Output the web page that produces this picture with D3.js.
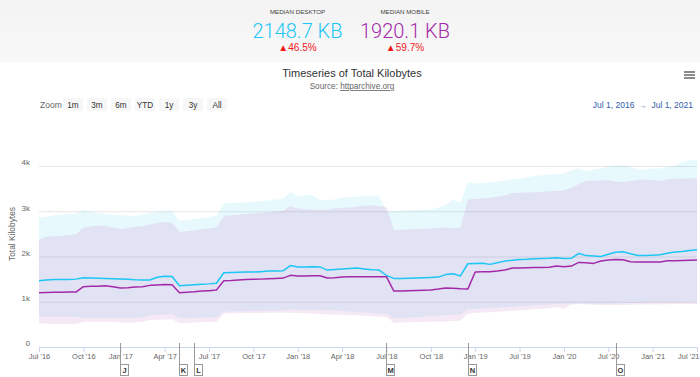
<!DOCTYPE html>
<html>
<head>
<meta charset="utf-8">
<script src="https://cdn.jsdelivr.net/npm/d3@7"></script>
<style>
  body { margin: 0; background: #fff; }
  svg text { font-family: 'Liberation Sans', Arial, sans-serif; }
</style>
</head>
<body>
<svg id="chart" width="700" height="377"></svg>
<script>
// crawl dates (twice a month until end of 2018, monthly after)
var crawlDates = [
  '2016-07-01','2016-07-15','2016-08-01','2016-08-15','2016-09-01','2016-09-15','2016-10-01','2016-10-15','2016-11-01','2016-11-15','2016-12-01',
  '2017-01-01','2017-01-15','2017-02-01','2017-02-15','2017-03-01','2017-03-15','2017-04-01','2017-04-15','2017-05-01','2017-05-15','2017-06-01','2017-06-15',
  '2017-07-01','2017-07-15','2017-08-01','2017-08-15','2017-09-01','2017-09-15','2017-10-01','2017-10-15','2017-11-01','2017-11-15','2017-12-01','2017-12-15',
  '2018-01-01','2018-01-15','2018-02-01','2018-02-15','2018-03-01','2018-03-15','2018-04-01','2018-04-15','2018-05-01','2018-05-15','2018-06-01','2018-06-15',
  '2018-07-01','2018-07-15','2018-08-01','2018-08-15','2018-09-01','2018-09-15','2018-10-01','2018-10-15','2018-11-01','2018-11-15','2018-12-01','2018-12-15',
  '2019-01-01','2019-02-01','2019-03-01','2019-04-01','2019-05-01','2019-06-01','2019-07-01','2019-08-01','2019-09-01','2019-10-01','2019-11-01','2019-12-01',
  '2020-01-01','2020-02-01','2020-03-01','2020-04-01','2020-05-01','2020-06-01','2020-07-01','2020-08-01','2020-09-01','2020-10-01','2020-11-01','2020-12-01',
  '2021-01-01','2021-02-01','2021-03-01','2021-04-01','2021-05-01','2021-06-01','2021-07-01'
];

var desktopMedian = [
  1463,1480,1494,1494,1494,1500,1530,1525,1520,1515,1510,
  1501,1495,1485,1479,1480,1540,1565,1560,1355,1365,1375,1385,1395,1410,1640,1645,1650,1655,1656,1665,1677,1680,1684,1800,
  1770,1770,1773,1770,1700,1710,1722,1737,1744,1725,1707,1700,1580,1516,1516,1520,1525,1530,1538,1545,1600,1620,1570,1840,
  1848,1850,1826,1860,1898,1915,1936,1940,1950,1955,1960,1971,
  1957,1960,2068,2020,2009,2000,2050,2095,2104,2060,2024,2024,
  2030,2038,2070,2100,2110,2135,2149
];
var mobileMedian = [
  1199,1205,1210,1212,1214,1215,1332,1340,1345,1354,1330,
  1302,1310,1325,1330,1362,1370,1380,1375,1200,1210,1220,1235,1245,1258,1464,1470,1480,1490,1495,1500,1510,1515,1523,1583,
  1570,1567,1575,1575,1523,1530,1545,1552,1552,1552,1552,1552,1550,1236,1240,1245,1250,1255,1262,1280,1302,1300,1285,1280,
  1656,1662,1665,1680,1700,1744,1745,1750,1755,1759,1765,1788,
  1773,1788,1869,1860,1848,1900,1921,1936,1930,1883,1880,1878,
  1876,1880,1905,1908,1912,1918,1920
];
var desktopHigh = [
  2855,2880,2914,2925,2936,2950,3024,2990,2960,2940,2920,
  2914,2905,2899,2930,2960,2987,3000,3005,2788,2810,2830,2850,2870,2899,3172,3180,3190,3200,3210,3220,3240,3260,3282,3428,
  3330,3355,3355,3245,3250,3260,3300,3318,3320,3330,3340,3340,2990,3000,3010,3020,3030,3040,3040,3080,3135,3260,3190,3649,
  3613,3620,3640,3660,3686,3705,3723,3750,3780,3797,3810,3820,
  3834,3900,3945,3892,3920,3945,3990,4018,4018,3980,3922,3922,
  3945,3945,3980,4000,4091,4120,4143
];
var mobileHigh = [
  2377,2435,2450,2460,2470,2490,2642,2665,2686,2680,2642,
  2605,2630,2657,2671,2715,2740,2760,2744,2545,2560,2580,2600,2620,2642,2899,2910,2925,2940,2950,2965,2980,2995,3009,3113,
  3061,3050,3040,3024,3040,3060,3075,3083,3100,3120,3135,3113,3098,2583,2590,2600,2610,2620,2620,2635,2642,2630,2642,3260,
  3270,3282,3300,3318,3350,3406,3410,3415,3422,3430,3440,3450,
  3466,3520,3600,3671,3680,3686,3686,3660,3649,3670,3690,3701,
  3690,3671,3700,3723,3725,3728,3730
];
var desktopLow = [
  669,669,669,669,669,669,640,640,640,640,640,
  640,640,640,650,700,715,720,728,633,640,645,648,650,655,780,785,790,792,795,798,800,802,802,832,
  825,820,815,810,805,800,795,780,770,760,750,743,740,633,640,650,660,670,684,690,700,710,721,832,
  840,850,860,870,880,890,900,910,920,930,940,949,
  949,960,965,960,958,955,955,960,965,970,975,980,
  985,990,992,995,997,999,1000
];
var mobileLow = [
  523,515,510,508,508,510,559,559,559,559,559,
  545,537,545,559,596,600,605,611,523,530,540,550,555,559,743,745,748,750,752,754,756,757,758,758,
  750,745,740,730,720,715,710,706,700,690,680,669,660,537,540,545,550,555,559,562,566,572,581,743,
  750,760,770,780,790,800,810,820,832,845,860,876,
  850,940,949,940,935,930,927,927,930,935,938,940,
  942,944,946,948,949,949,949
];

var tickDates = ['2016-07-01','2016-10-01','2017-01-01','2017-04-01','2017-07-01','2017-10-01','2018-01-01','2018-04-01',
                 '2018-07-01','2018-10-01','2019-01-01','2019-07-01','2020-01-01','2020-07-01','2021-01-01','2021-07-01'];
var tickLabels = ["Jul '16","Oct '16","Jan '17","Apr '17","Jul '17","Oct '17","Jan '18","Apr '18",
                  "Jul '18","Oct '18","Jan '19","Jul '19","Jan '20","Jul '20","Jan '21","Jul '21"];
var yTicks = [0, 1000, 2000, 3000, 4000];

var flagDates = ['2017-01-01','2017-05-01','2017-06-01','2018-07-01','2018-12-15','2020-08-01'];
var flagLetters = ['J','K','L','M','N','O'];

var zoomButtons = ['1m','3m','6m','YTD','1y','3y','All'];

var summaryLabels = ['MEDIAN DESKTOP', 'MEDIAN MOBILE'];
var summaryValues = ['2148.7 KB', '1920.1 KB'];
var summaryChanges = ['46.5%', '59.7%'];

var desktopColor = '#1cc6f5';
var mobileColor = '#a429a8';

var svg = d3.select('#chart');

// header strip
var grad = svg.append('defs').append('linearGradient')
    .attr('id', 'hdr').attr('x1', 0).attr('y1', 0).attr('x2', 0).attr('y2', 1);
grad.append('stop').attr('offset', '0%').attr('stop-color', '#f3f3f3');
grad.append('stop').attr('offset', '100%').attr('stop-color', '#f8f8f8');
svg.append('rect').attr('width', 700).attr('height', 62).attr('fill', 'url(#hdr)');

var summaryX = [297.5, 405];
var summaryColors = [desktopColor, mobileColor];
summaryLabels.forEach(function(label, i) {
  svg.append('text')
      .attr('x', summaryX[i]).attr('y', 14)
      .attr('text-anchor', 'middle')
      .attr('font-size', '6.2px')
      .attr('fill', '#444')
      .text(label);
  svg.append('text')
      .attr('x', summaryX[i]).attr('y', 38)
      .attr('text-anchor', 'middle')
      .attr('font-size', '20px')
      .attr('font-weight', 300)
      .style('font-family', 'Roboto, sans-serif')
      .attr('fill', summaryColors[i])
      .text(summaryValues[i]);
  svg.append('text')
      .attr('x', summaryX[i]).attr('y', 51)
      .attr('text-anchor', 'middle')
      .attr('font-size', '10px')
      .attr('fill', '#f01818')
      .text('\u25B2' + summaryChanges[i]);
});

// title block
svg.append('text')
    .attr('x', 352).attr('y', 77)
    .attr('text-anchor', 'middle')
    .attr('font-size', '11px')
    .attr('fill', '#333')
    .text('Timeseries of Total Kilobytes');

var source = svg.append('text')
    .attr('x', 352).attr('y', 89)
    .attr('text-anchor', 'middle')
    .attr('font-size', '8.2px')
    .attr('fill', '#666');
source.append('tspan').text('Source: ');
source.append('tspan').attr('text-decoration', 'underline').text('httparchive.org');

// export menu icon
[72, 75, 78].forEach(function(y) {
  svg.append('line')
      .attr('x1', 684).attr('x2', 695).attr('y1', y).attr('y2', y)
      .attr('stroke', '#666').attr('stroke-width', 1.5);
});

// range selector
svg.append('text')
    .attr('x', 40).attr('y', 107.5)
    .attr('font-size', '8.5px')
    .attr('fill', '#666')
    .text('Zoom');

var btn = svg.selectAll('.btn')
    .data(zoomButtons)
    .enter().append('g')
    .classed('btn', true)
    .attr('transform', function(d, i) { return 'translate(' + (63 + i * 24) + ',98)'; });
btn.append('rect')
    .attr('width', 20).attr('height', 13).attr('rx', 2)
    .attr('fill', '#f7f7f7');
btn.append('text')
    .attr('x', 10).attr('y', 9.5)
    .attr('text-anchor', 'middle')
    .attr('font-size', '8.2px')
    .attr('fill', '#333')
    .text(d => d);

var range = svg.append('text')
    .attr('x', 693).attr('y', 107.5)
    .attr('text-anchor', 'end')
    .attr('font-size', '8.5px')
    .attr('fill', '#335cad');
range.append('tspan').text('Jul 1, 2016');
range.append('tspan').attr('dx', 5).attr('font-size', '7px').text('\u2192');
range.append('tspan').attr('dx', 5).text('Jul 1, 2021');

// scales
var x = d3.scalePoint()
    .domain(crawlDates)
    .range([39, 697]);

var y = d3.scaleLinear()
    .domain([0, 4000])
    .range([347, 166]);

// grid + y labels
var yAxis = d3.axisLeft(y)
    .tickValues(yTicks)
    .tickSize(-658)
    .tickPadding(9)
    .tickFormat(d => d === 0 ? '0' : (d / 1000) + 'k');

var gy = svg.append('g')
    .attr('transform', 'translate(39,0)')
    .call(yAxis);
gy.select('.domain').remove();
gy.selectAll('line').attr('stroke', '#e6e6e6');
gy.selectAll('text')
    .attr('font-size', '8px')
    .attr('fill', '#666')
    .attr('dy', '-0.15em')
    .style('font-family', "'Liberation Sans', Arial, sans-serif");

svg.append('text')
    .attr('transform', 'translate(15,234) rotate(-90)')
    .attr('text-anchor', 'middle')
    .attr('font-size', '8.4px')
    .attr('fill', '#666')
    .text('Total Kilobytes');

// bands
var bands = [
  { low: desktopLow, high: desktopHigh, color: desktopColor },
  { low: mobileLow, high: mobileHigh, color: mobileColor }
];
bands.forEach(function(b) {
  var area = d3.area()
      .x((d, i) => x(crawlDates[i]))
      .y0((d, i) => y(b.low[i]))
      .y1(d => y(d));
  svg.append('path')
      .datum(b.high)
      .attr('d', area)
      .attr('fill', b.color)
      .attr('fill-opacity', 0.1);
});

// median lines
[[desktopMedian, desktopColor], [mobileMedian, mobileColor]].forEach(function(s) {
  var line = d3.line()
      .x((d, i) => x(crawlDates[i]))
      .y(d => y(d));
  svg.append('path')
      .datum(s[0])
      .attr('d', line)
      .attr('fill', 'none')
      .attr('stroke', s[1])
      .attr('stroke-width', 1.5)
      .attr('stroke-linejoin', 'round');
});

// x axis
var xAxis = d3.axisBottom(x)
    .tickValues(tickDates)
    .tickSize(5)
    .tickPadding(2)
    .tickFormat((d, i) => tickLabels[i]);

var gx = svg.append('g')
    .attr('transform', 'translate(0,347)')
    .call(xAxis);
gx.select('.domain').attr('stroke', '#ccd6eb').attr('d', 'M39.5,0.5H697');
gx.selectAll('line').attr('stroke', '#ccd6eb');
gx.selectAll('text')
    .attr('font-size', '7.5px')
    .attr('fill', '#666')
    .style('font-family', "'Liberation Sans', Arial, sans-serif");
// keep the last label inside the frame, as the original does
gx.selectAll('.tick:last-of-type text')
    .attr('text-anchor', 'end')
    .attr('x', 2);

// flags
var flags = svg.selectAll('.flag')
    .data(flagDates)
    .enter().append('g')
    .classed('flag', true)
    .attr('transform', d => 'translate(' + Math.round(x(d)) + ',0)');
flags.append('line')
    .attr('x1', 0.5).attr('x2', 0.5)
    .attr('y1', 343).attr('y2', 364)
    .attr('stroke', '#999');
flags.append('rect')
    .attr('x', 0.5).attr('y', 364.5)
    .attr('width', 8).attr('height', 11)
    .attr('fill', '#fff')
    .attr('stroke', '#999');
flags.append('text')
    .attr('x', 4.5).attr('y', 373)
    .attr('text-anchor', 'middle')
    .attr('font-size', '7.5px')
    .attr('font-weight', 'bold')
    .attr('fill', '#333')
    .text((d, i) => flagLetters[i]);
</script>
</body>
</html>
